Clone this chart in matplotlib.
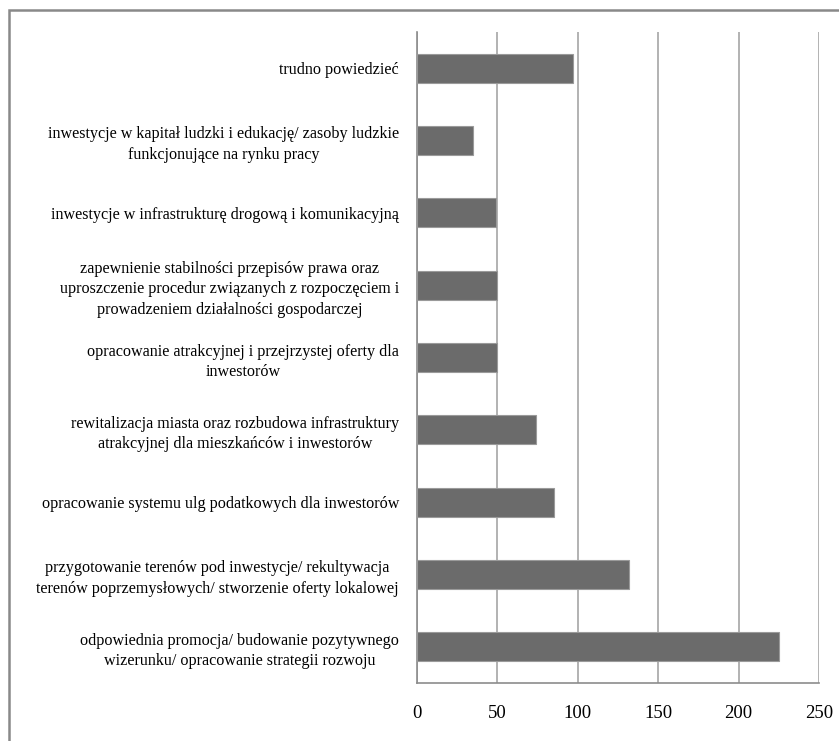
import matplotlib
matplotlib.use("Agg")
import matplotlib.pyplot as plt
from matplotlib.patches import Rectangle

categories = [
    "odpowiednia promocja/ budowanie pozytywnego\nwizerunku/ opracowanie strategii rozwoju",
    "przygotowanie terenów pod inwestycje/ rekultywacja\nterenów poprzemysłowych/ stworzenie oferty lokalowej",
    "opracowanie systemu ulg podatkowych dla inwestorów",
    "rewitalizacja miasta oraz rozbudowa infrastruktury\natrakcyjnej dla mieszkańców i inwestorów",
    "opracowanie atrakcyjnej i przejrzystej oferty dla\ninwestorów",
    "zapewnienie stabilności przepisów prawa oraz\nuproszczenie procedur związanych z rozpoczęciem i\nprowadzeniem działalności gospodarczej",
    "inwestycje w infrastrukturę drogową i komunikacyjną",
    "inwestycje w kapitał ludzki i edukację/ zasoby ludzkie\nfunkcjonujące na rynku pracy",
    "trudno powiedzieć",
]
values = [225, 132, 85, 74, 50, 50, 49, 35, 97]
xticks = [0, 50, 100, 150, 200, 250]

plt.rcParams['font.family'] = ['Liberation Serif', 'DejaVu Serif']

W, H = 839, 741
fig = plt.figure(figsize=(W / 100, H / 100), dpi=100)
ax = fig.add_axes([417 / W, 1 - 683 / H, (819 - 417) / W, (683 - 32) / H])

y = list(range(len(categories)))
ax.barh(y, values, height=0.4, color='#6b6b6b', edgecolor='#9a9a9a', linewidth=0.8, zorder=3)

ax.set_xlim(0, 250)
ax.set_ylim(-0.5, len(categories) - 0.5)
ax.set_xticks(xticks)
ax.set_xticklabels([str(t) for t in xticks], fontsize=13.5)
ax.set_yticks(y)
ax.set_yticklabels(categories, fontsize=11.6, multialignment='center', linespacing=1.38)
ax.tick_params(axis='x', length=0, pad=16)
ax.tick_params(axis='y', length=0, pad=13)
ax.grid(axis='x', color='#a6a6a6', linewidth=1.2, zorder=0)
ax.grid(axis='y', visible=False)
for s in ['top', 'right']:
    ax.spines[s].set_visible(False)
for s in ['left', 'bottom']:
    ax.spines[s].set_color('#8c8c8c')
    ax.spines[s].set_linewidth(1.2)

fig.patches.append(Rectangle((8.5 / W, -0.01), (W + 5) / W, 1 - 10 / H + 0.01,
                             transform=fig.transFigure, fill=False,
                             edgecolor='#898989', linewidth=1.8))

fig.savefig('out.png', dpi=100)
